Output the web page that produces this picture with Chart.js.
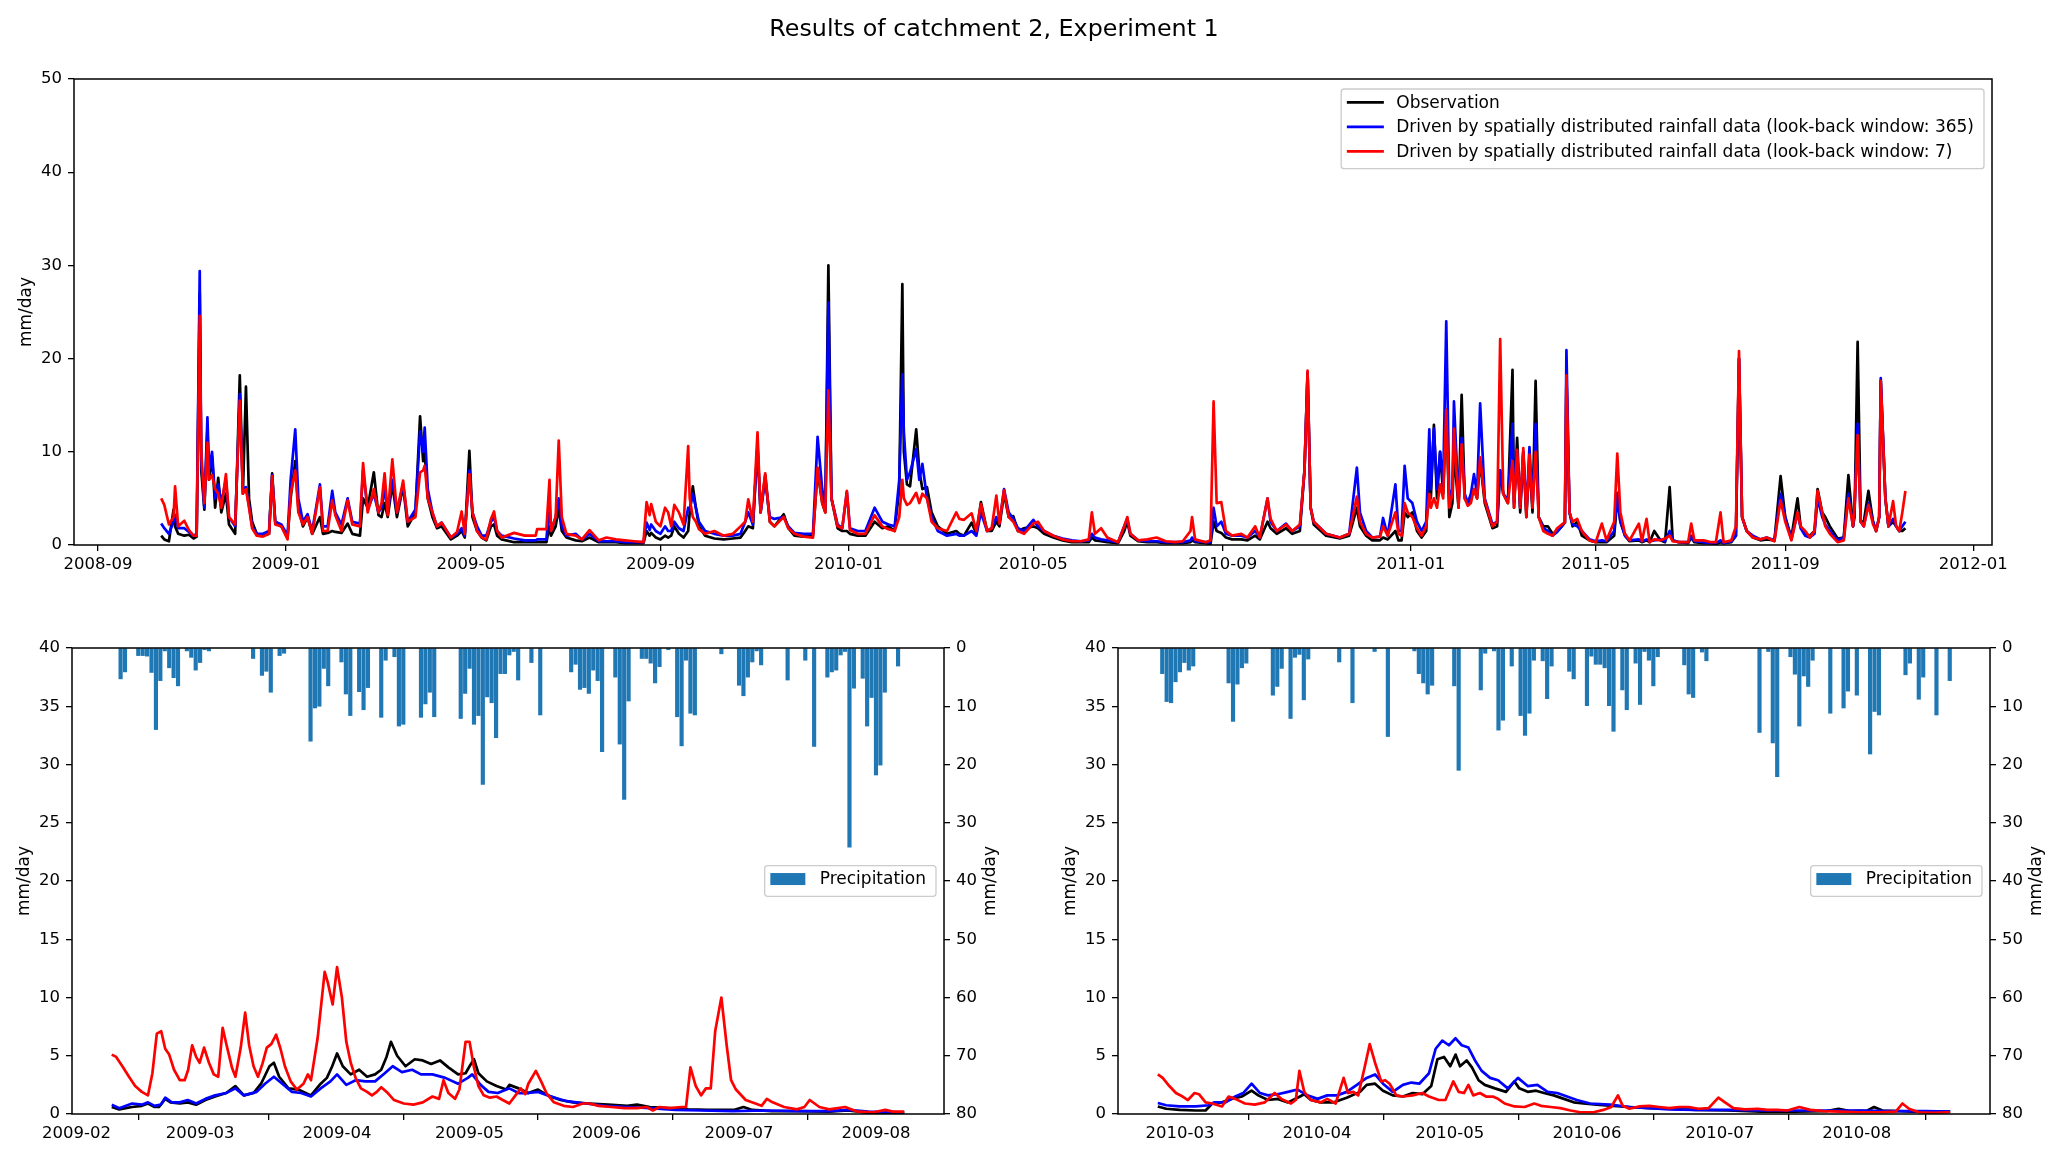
<!DOCTYPE html>
<html><head><meta charset="utf-8">
<script src="https://cdn.jsdelivr.net/npm/chart.js@4.4.1/dist/chart.umd.min.js"></script>
<style>
html,body{margin:0;padding:0;background:#fff;}
#wrap{position:relative;width:2067px;height:1158px;overflow:hidden;background:#fff;}
canvas{position:absolute;}
#title{position:absolute;top:14px;left:994px;transform:translateX(-50%);font-family:"DejaVu Sans",sans-serif;font-size:23.8px;white-space:nowrap;color:#000;}
</style></head><body>
<div id="wrap">
<canvas id="cTop" width="2067" height="600" style="left:0;top:0"></canvas>
<canvas id="cL" width="1033" height="558" style="left:0;top:600px"></canvas>
<canvas id="cR" width="1034" height="558" style="left:1033px;top:600px"></canvas>
<div id="title">Results of catchment 2, Experiment 1</div>
</div>
<script>
// ---------- DATA (x = days since 2009-01-01) ----------
const seriesNames = ['Observation',
  'Driven by spatially distributed rainfall data (look-back window: 365)',
  'Driven by spatially distributed rainfall data (look-back window: 7)'];
const topTicks = ['2008-09','2009-01','2009-05','2009-09','2010-01','2010-05','2010-09','2011-01','2011-05','2011-09','2012-01'];
const leftTicks = ['2009-02','2009-03','2009-04','2009-05','2009-06','2009-07','2009-08'];
const rightTicks = ['2010-03','2010-04','2010-05','2010-06','2010-07','2010-08'];

const topDay = [
-81,-79,-76,-73,-72,-70,-66,-63,-60,-58,
-56,-55,-53,-51,-50,-48,-46,-44,-42,-39,
-37,-33,-30,-28,-26,-24,-22,-19,-15,-11,
-9,-7,-3,1,3,6,8,11,14,17,
22,24,27,30,32,36,40,43,48,50,
53,57,60,62,64,66,69,72,76,79,
84,87,89,90,92,95,98,101,107,111,
114,116,119,121,124,127,130,133,135,137,
140,148,155,162,163,169,171,172,175,177,
179,182,188,192,197,203,208,214,220,226,
232,234,236,237,240,243,246,248,250,252,
255,258,261,262,264,266,268,272,278,284,
290,295,298,300,303,306,308,311,314,317,
323,326,330,336,342,345,348,350,352,354,
358,361,364,366,371,376,382,387,391,395,
398,400,401,403,405,409,411,413,416,419,
423,429,435,437,440,445,448,451,455,458,
461,463,466,469,472,475,479,485,488,492,
498,504,510,516,521,523,525,529,533,540,
544,546,548,553,559,565,571,577,582,587,
588,590,597,600,602,604,607,610,614,620,
624,629,632,637,639,643,649,653,658,661,
663,665,667,675,684,690,695,697,701,705,
710,712,715,720,722,724,726,728,731,734,
737,740,742,743,745,747,749,751,753,755,
757,758,761,763,765,767,769,771,773,775,
778,783,786,788,790,793,796,797,799,801,
803,805,807,809,811,813,816,819,822,825,
828,830,831,833,835,838,841,846,850,854,
857,862,864,866,869,872,878,880,883,885,
888,892,895,898,900,904,910,912,914,920,
925,928,931,933,938,941,943,945,948,952,
957,961,966,970,973,977,981,983,986,989,
992,994,997,999,1002,1007,1011,1014,1017,1018,
1020,1022,1024,1027,1030,1032,1034,1035,1038,1040,
1043,1045,1047,1049,1051];
const topObs = [
1.0,0.6,0.4,3.8,2.0,1.2,1.0,1.1,0.7,0.9,
27.0,8,3.8,12.5,7,9.5,4,7.2,3.5,5.5,
2.2,1.2,18.2,5.5,17.0,5,2.5,1.2,1.0,1.2,
7.7,2.5,2.0,0.8,5,9,4,2,3.0,1.2,
3.0,1.2,1.3,1.5,1.4,1.3,2.3,1.2,1.0,5.0,
4.0,7.8,3.2,3.0,4.5,3.0,6.5,3.0,6.3,2.0,
3.5,13.8,9.0,10.0,5,3.0,1.8,2.0,0.6,1.0,
1.5,0.8,10.1,3.0,1.5,0.8,0.5,2.0,2.2,1.0,
0.6,0.3,0.3,0.3,0.3,0.3,2.0,1.0,2.0,4.0,
1.5,0.8,0.5,0.4,0.8,0.3,0.3,0.3,0.2,0.2,
0.2,1.5,1.0,1.3,0.8,0.6,1.0,0.8,1.0,2.0,
1.2,0.8,1.5,3.5,6.3,4,2.0,1.0,0.7,0.6,
0.7,0.8,1.5,2.0,1.8,10.8,3.5,7.5,2.5,2.0,
3.3,1.8,1.0,0.9,1.0,8.0,4.5,3.5,30.0,5,
1.8,1.5,1.5,1.2,1.0,1.0,2.5,1.8,2.0,1.5,
6,28.0,10,6.5,6.3,12.4,8,6.0,6.2,3.5,
2.0,1.2,1.5,1.2,1.0,2.4,1.2,4.6,1.5,1.5,
2.5,2.0,5.5,3.0,3.1,1.5,1.8,2.0,1.8,1.2,
0.8,0.5,0.3,0.3,0.3,0.8,0.5,0.4,0.3,0.2,
1.5,2.5,1.0,0.4,0.3,0.3,0.2,0.2,0.2,0.3,
0.5,0.3,0.2,0.1,2.5,1.5,1.3,0.8,0.6,0.6,
0.5,1.0,0.6,2.5,1.8,1.2,1.8,1.2,1.5,8,
18.5,4,2.2,1.0,0.7,1.0,4.0,2.0,1.0,0.5,
0.5,0.8,0.6,1.5,0.5,0.5,3.5,3.0,3.5,1.5,
0.8,1.5,8.5,5,12.9,5.0,10.0,5.5,14.5,3.0,
4.5,10.0,4.0,16.1,5.0,4.5,5.0,6.0,5.0,9.0,
4.5,1.8,2.0,8.0,5.5,4.5,18.8,4.0,11.5,3.5,
10.0,3.0,9.0,3.5,17.6,3.0,2.0,2.0,1.2,1.5,
2.0,2.4,18.0,3.5,2.0,2.5,1.0,0.5,0.3,0.3,
0.3,1.0,5.0,2.5,1.0,0.4,0.5,0.3,0.5,0.3,
1.5,0.5,0.3,6.2,0.5,0.3,0.2,0.8,0.3,0.2,
0.2,0.1,0.3,0.2,0.3,1.0,20.0,3.0,1.5,0.8,
0.5,0.6,0.5,7.4,3.0,0.8,5.0,2.0,1.2,1.0,
1.5,6.0,3.5,3.0,2.0,0.7,0.8,7.5,2.0,3,
21.8,2.5,2.5,5.8,2.5,1.5,3,17.6,5.0,2.0,
2.5,2.0,1.5,1.5,1.8];
const top365 = [
2.3,1.8,1.2,2.5,3.2,1.8,1.8,1.4,1.0,1.2,
29.4,9,4.0,13.7,8,10.0,5,6.5,4.5,7.0,
3,2.0,16.2,6,6.2,4.2,2.0,1.2,1.2,1.5,
7.5,2.5,2.2,1.0,7,12.4,5,2.5,3.3,1.5,
6.5,2.0,2.0,5.8,3.5,2.2,5.0,2.5,2.3,8.0,
3.8,5.5,3.5,4.0,6.0,3.5,7.0,3.5,6.5,2.5,
3.8,12.2,10.0,12.6,6,3.5,2.0,2.4,0.8,1.2,
1.8,1.0,8.0,3.5,2.0,1.0,1.0,2.5,3.0,1.5,
1.0,0.7,0.5,0.5,0.6,0.6,4.5,1.5,3.0,5.0,
2.0,1.0,1.2,0.6,1.2,0.4,0.4,0.4,0.3,0.3,
0.3,2.4,1.6,2.2,1.5,1.2,2.0,1.5,1.5,2.5,
1.8,1.5,4.0,3.8,5.5,4,2.5,1.5,1.2,1.0,
1.0,1.2,2.5,3.5,2.2,10.5,3.5,7.0,3.0,2.8,
3.0,2.0,1.3,1.2,1.2,11.6,6.0,4.0,26.0,5,
2.2,1.8,5.7,1.8,1.5,1.5,4.0,2.5,2.2,2.0,
7,18.3,12,7,7.8,10.3,7,8.7,5.0,3.0,
1.5,1.0,1.2,1.0,1.0,1.5,1.0,3.5,1.5,1.8,
3.0,2.3,6.0,3.5,2.8,1.8,1.5,2.7,2.0,1.5,
1.0,0.7,0.5,0.4,0.5,1.2,0.8,0.6,0.5,0.3,
2.0,2.8,1.2,0.5,0.4,0.4,0.3,0.3,0.3,0.5,
0.8,0.4,0.3,0.3,4.0,2.0,2.5,1.2,1.0,1.0,
0.8,1.5,0.8,5.0,2.5,1.5,2.3,1.5,2.0,8,
18.5,4,2.5,1.2,0.8,1.2,8.3,3.5,1.5,0.8,
0.9,2.9,1.0,6.5,1.5,1.5,8.5,5.0,4.5,2.5,
1.5,2.5,12.4,6,12.5,6.0,10.0,6.5,24.0,5.0,
6,15.4,4.5,11.5,5.5,4.5,5.5,7.6,5.5,15.2,
5.0,2.2,2.5,8.0,5.5,4.8,13.0,4.5,10.0,4.0,
10.0,3.5,10.5,4.0,13.0,3.0,1.8,1.5,1.0,1.4,
2.0,2.5,20.9,3.5,2.2,2.0,1.5,0.6,0.4,0.5,
0.4,1.5,5.6,2.5,1.0,0.5,0.6,0.4,0.6,0.4,
0.5,0.6,0.4,1.5,0.5,0.3,0.3,1.0,0.4,0.3,
0.2,0.2,0.5,0.2,0.4,1.0,20.0,3.0,1.5,1.0,
0.6,0.8,0.5,5.5,3.0,0.6,3.5,1.8,1.0,0.8,
1.2,5.0,3.0,2.2,1.5,0.5,0.8,5.5,2.0,4,
13.0,2.5,2.0,4.5,2.5,1.5,3,17.9,5.0,2.0,
2.8,2.0,1.5,2.0,2.5];
const top7 = [
5.0,4.3,2.2,3.0,6.3,2.0,2.6,1.6,1.0,1.0,
24.6,10,4.5,11.0,7,7.5,6,5.5,4.0,7.6,
3,2.2,15.5,5.5,6.0,4,1.8,1.0,0.9,1.2,
7.4,2.2,2.0,0.6,5.5,8,3.5,2.2,3.0,1.2,
6.2,1.5,1.5,4.8,3.2,1.5,4.8,2.2,2.0,8.8,
3.5,6.0,3.5,4.5,7.7,3.2,9.2,3.5,6.9,2.5,
3.0,7.8,8.0,8.5,5,3.5,2.0,2.4,0.8,1.4,
3.6,1.2,7.6,3.5,1.5,0.8,0.6,2.8,3.6,1.5,
0.8,1.3,1.0,1.0,1.7,1.7,7.0,1.5,3.0,11.2,
3.0,1.2,1.0,0.6,1.6,0.5,0.8,0.6,0.5,0.4,
0.3,4.6,3.2,4.4,2.5,2.0,4.0,3.5,2.0,4.3,
3.5,2.2,10.6,5.0,3.0,2.5,1.7,1.2,1.5,1.0,
1.2,2.0,2.5,4.9,2.5,12.1,3.5,7.7,2.5,2.0,
3.0,1.8,1.2,0.9,0.8,8.3,4.5,3.5,16.6,5,
2.0,1.8,5.8,1.6,1.2,1.2,3.2,2.0,1.7,1.5,
3,7.0,5,4.3,4.5,5.6,4.5,5.5,5.0,2.5,
1.8,1.5,3.5,2.8,2.7,3.4,1.5,4.4,1.5,1.8,
5.3,2.3,5.9,3.0,2.5,1.5,1.2,2.3,2.5,1.5,
1.0,0.6,0.4,0.4,0.6,3.5,1.2,1.8,0.8,0.3,
2.0,3.0,1.2,0.5,0.6,0.8,0.4,0.3,0.4,1.5,
3.0,0.6,0.3,0.5,15.4,4.5,4.6,1.5,1.0,1.2,
0.8,2.0,0.8,5.0,2.8,1.5,2.2,1.5,2.2,8,
18.7,4,2.5,1.2,0.8,1.2,5.2,2.5,1.2,0.8,
0.9,2.0,1.0,3.5,1.2,1.0,4.5,3.5,3.0,1.8,
1.0,2.0,5.5,4,5.0,4.0,6.5,5.0,14.5,4.0,
5.5,12.5,4.0,10.8,5.0,4.2,4.5,6.0,5.0,9.4,
4.8,2.0,2.5,22.1,5.5,4.5,9.0,4.0,10.2,4.0,
10.4,3.0,9.7,4.0,10.0,3.0,1.5,1.2,1.0,1.8,
2.2,2.4,18.2,3.5,2.5,2.8,1.5,0.5,0.3,2.3,
0.5,2.5,9.8,3.5,1.2,0.5,2.3,0.4,2.8,0.3,
0.6,0.5,0.7,1.0,0.4,0.3,0.3,2.3,0.5,0.5,
0.3,0.3,3.5,0.3,0.5,2.0,20.8,3.0,1.5,0.8,
0.6,0.8,0.4,4.8,2.5,0.5,3.5,2.0,1.5,0.8,
1.5,5.8,3.5,2.0,1.2,0.3,0.5,5.0,2.0,4,
11.8,2.5,2.0,4.3,2.2,1.5,3,17.6,5.0,2.0,
4.7,2.0,1.5,3.5,5.8];

// bottom-left (Feb-Aug 2009)
const leftPrecipDay = [41,42,45,46,47,48,49,50,51,52,53,54,56,57,58,59,60,61,71,73,74,75,77,78,84,85,86,87,88,91,92,93,95,96,97,100,101,103,104,105,109,110,111,112,118,119,120,121,122,123,124,125,126,127,128,129,130,131,134,136,143,144,145,146,147,148,149,150,153,154,155,156,159,160,161,162,163,165,167,168,169,170,171,177,181,182,183,184,185,186,192,196,198,201,202,203,204,205,206,207,209,210,211,212,213,214,217];
const leftPrecip = [5.3,4.1,1.3,1.3,1.4,4.2,14.0,5.6,0.5,3.4,5.1,6.5,0.5,1.6,3.8,2.5,0.3,0.5,1.8,4.7,4.0,7.6,1.3,0.9,16.0,10.3,10.0,3.5,6.5,2.4,7.9,11.6,7.5,10.6,6.8,11.9,2.1,1.5,13.4,13.1,11.9,9.6,7.6,11.8,12.1,7.8,3.5,13.1,11.6,23.4,8.4,9.4,15.4,4.4,4.4,1.2,0.6,5.5,2.5,11.5,4.1,2.8,7.1,6.8,7.8,3.8,5.6,17.8,5.0,16.5,26.0,9.1,1.8,1.8,2.6,6.0,3.2,0.3,11.8,16.8,2.1,11.2,11.5,1.0,6.4,8.2,5.0,2.4,0.5,2.9,5.5,2.1,16.9,5.0,4.1,3.8,1.2,0.6,34.2,6.9,5.2,13.4,8.5,21.8,20.1,7.6,3.1];
const leftObsDay = [39,40.7,43.6,45.8,47.2,48.7,49.7,51.1,52.3,54.4,56.2,58.1,60.2,62.4,64.9,67,68.9,71.1,72.8,74.7,75.7,76.9,79,81.2,84.1,86.3,87.7,88.9,90,91.3,93.1,95,96.8,98.6,100,101.2,102.2,103.6,105.5,107.6,109.4,111.3,113.3,115.2,117.4,119.1,120,121,122,123.9,126.1,128.3,129,131.1,133.3,135.5,137.7,140.6,143.4,147.1,151.4,155.7,157.9,160.8,165.2,169.5,173.9,179.8,182,184,188.4,194.2,201.4,205.7,210.3,218.4];
const leftObs = [0.6,0.4,0.6,0.7,0.9,0.6,0.6,1.3,1.0,0.9,1.0,0.8,1.2,1.5,1.8,2.4,1.6,1.8,2.6,4.1,4.4,3.2,2.2,2.1,1.6,2.6,3.1,4.1,5.2,4.1,3.4,3.8,3.2,3.4,3.8,4.9,6.2,5.0,4.1,4.7,4.6,4.3,4.6,4.0,3.4,3.5,4.1,4.7,3.5,2.8,2.4,2.1,2.5,2.2,1.8,2.1,1.6,1.2,1.0,0.9,0.8,0.7,0.8,0.6,0.5,0.4,0.35,0.35,0.6,0.35,0.25,0.25,0.2,0.3,0.1,0.1];
const left365Day = [39,40.7,43.6,45.8,47.2,48.7,50.1,51.1,52.6,54.4,56.2,58.1,60.2,62.4,64.9,67,68.9,71.8,73.7,75.7,77.6,79.8,81.9,84.1,86.3,88.5,90,92.1,94.2,96.4,98.6,100.8,102.6,104.7,107,109,111.6,114.5,117.4,119.6,120.6,122.5,124.3,126.4,129,131.1,133.3,135.5,138.4,142,146.3,150.7,155.7,160.8,166.6,172.4,179.6,186.9,194.1,201.4,205.7,210.3,218.4];
const left365 = [0.8,0.5,0.9,0.8,1.0,0.7,0.8,1.4,1.0,1.0,1.2,0.9,1.3,1.6,1.8,2.2,1.6,1.9,2.6,3.2,2.6,1.9,1.8,1.5,2.2,2.8,3.4,2.5,2.9,2.8,2.8,3.5,4.1,3.6,3.8,3.4,3.4,3.1,2.6,3.1,3.4,2.5,1.9,1.8,2.2,1.8,1.8,1.9,1.5,1.1,0.9,0.7,0.6,0.5,0.35,0.3,0.25,0.3,0.25,0.25,0.35,0.2,0.15];
const left7Day = [39,40,41.4,42.9,44.3,45.8,47.2,48.2,49.2,50.2,51.1,52,53.1,54.4,55.5,56.3,57.2,58.1,58.9,59.9,61,62.1,63.1,64.1,65,66.2,67,68.2,69.2,70.1,71.1,72.1,73.1,74.1,75.1,76.2,77.2,78.2,79.5,80.9,82.4,83.4,84.1,85.6,87.2,87.9,89,90,91.1,92.1,93.1,94.2,95.4,96.8,97.9,99,100,101.5,102.9,105.1,107.3,109.4,111.6,113.1,114.1,115.2,116.7,117.7,119.1,120,121,122,123.2,124.6,126.1,127.5,129,130.4,131.6,132.6,133.3,135,136.2,137.4,139.1,141.3,143.4,145.6,147.1,149.2,152.1,155,157.9,160.1,161.5,163,165.2,168,169,170,171.2,172.4,173.5,174.6,175.6,177,178.2,179.2,180.3,182.5,184.7,186.1,187.3,188.6,191.2,194.1,195.8,197,199.2,201.4,205,207.9,211.5,214.1,215.8,218.4];
const left7 = [5.1,4.9,4.1,3.2,2.4,1.9,1.6,3.5,6.9,7.1,5.6,5.1,3.8,2.9,2.9,3.8,5.9,4.9,4.4,5.7,4.4,3.4,3.2,7.4,5.9,4.0,3.2,5.7,8.7,5.9,4.1,3.2,4.3,5.7,6.0,6.8,5.6,4.1,2.8,2.1,2.6,3.4,2.9,6.5,12.2,11.3,9.4,12.6,10.0,6.2,4.4,3.1,2.2,1.9,1.6,1.9,2.3,1.8,1.2,0.9,0.8,1.0,1.5,1.3,2.9,1.8,1.3,2.1,6.2,6.2,4.0,2.4,1.6,1.4,1.5,1.2,0.9,1.6,2.2,1.7,2.6,3.7,2.8,1.8,1.0,0.7,0.6,0.9,0.9,0.7,0.6,0.5,0.5,0.6,0.3,0.6,0.5,0.6,0.6,4.0,2.4,1.6,2.2,2.2,7.1,10.0,5.9,2.9,2.1,1.2,0.9,0.7,1.3,1.0,0.6,0.4,0.6,1.2,0.6,0.4,0.6,0.2,0.15,0.35,0.2,0.2];

// bottom-right (Feb-Aug 2010)
const rightPrecipDay = [420,421,422,423,424,425,426,427,435,436,437,438,439,445,446,447,449,450,451,452,453,460,463,468,471,477,478,479,480,481,486,487,492,493,495,496,497,499,501,502,503,504,506,507,508,512,513,516,517,518,519,520,521,522,524,525,527,528,529,530,531,532,538,539,540,542,543,555,557,558,559,562,563,564,565,566,567,571,574,575,577,580,581,582,588,589,591,592,595,598];
const rightPrecip = [4.4,9.2,9.4,5.8,4.1,2.5,3.8,3.1,6.0,12.6,6.2,3.4,2.6,8.1,6.6,3.5,12.1,1.6,1.1,8.9,1.9,2.4,9.4,0.6,15.2,0.5,4.4,6.0,7.9,6.4,6.5,21.0,7.2,0.9,0.5,14.1,12.4,3.1,11.6,15.0,11.2,2.1,2.2,8.7,3.1,4.0,5.3,9.9,1.4,2.8,2.8,3.4,9.9,14.3,7.2,10.6,2.6,9.7,0.6,2.1,6.5,1.5,2.9,7.9,8.5,0.7,2.2,14.5,0.6,16.3,22.1,1.5,4.5,13.4,4.8,6.6,2.1,11.2,10.3,7.4,8.1,18.2,10.9,11.5,4.6,2.6,8.8,5.0,11.5,5.6];
const rightObsDay = [419,420.9,423.9,427.6,429.8,431.3,433.5,435.7,438,440.2,441.7,443.9,446.1,448.4,450.6,452.1,453.6,455.8,458.8,461.7,464.7,466.2,468.1,469.9,472.1,474.4,476.6,478.8,480.8,482.2,483.7,485.1,486.3,487.3,488.8,490,491.5,492.9,495.2,497.7,499.6,500.7,502.6,504.5,506.3,508.5,510.8,513,515.2,518.2,521.9,525.6,530.1,534.6,540.5,547.9,555.3,562.8,570.2,572.9,575.4,579.4,580.9,582.8,589.5,598.1];
const rightObs = [0.65,0.45,0.35,0.3,0.3,0.9,1.0,1.3,1.5,2.0,1.6,1.2,1.3,1.0,1.4,1.7,1.2,1.0,1.0,1.4,1.9,2.5,2.6,2.0,1.6,1.5,1.8,1.7,2.4,4.7,4.9,4.1,5.1,4.1,4.6,4.0,2.9,2.5,2.2,1.9,2.8,2.2,1.9,2.0,1.8,1.6,1.3,1.0,0.9,0.8,0.7,0.6,0.5,0.45,0.35,0.3,0.2,0.2,0.25,0.45,0.25,0.3,0.6,0.3,0.2,0.2];
const right365Day = [419,420.9,423.9,427.6,430.5,431.7,434.3,436.5,438.3,440.2,442.1,443.9,446.1,448.4,450.6,452.8,455.1,457.3,459.5,461.7,464,466.2,468.1,469.9,472.1,474.4,476.3,478.1,480.3,481.8,483.3,484.8,486.3,487.7,489.2,490.7,492.2,494.1,495.9,498.1,500.4,502.6,504.8,507.1,509.3,511.5,513.7,516.7,521.2,525.6,530.1,534.6,540.5,547.9,555.3,562.8,570.2,577.6,585,592.5,598.1];
const right365 = [0.95,0.75,0.65,0.65,0.75,1.0,1.0,1.5,1.8,2.6,1.8,1.6,1.7,1.9,2.1,1.6,1.3,1.6,1.6,1.9,2.5,3.1,3.4,2.6,1.9,2.5,2.7,2.6,3.5,5.6,6.3,5.9,6.5,5.9,5.7,4.6,3.7,3.1,2.9,2.2,3.1,2.4,2.5,1.9,1.8,1.5,1.2,0.9,0.8,0.6,0.5,0.4,0.35,0.35,0.3,0.3,0.3,0.3,0.25,0.25,0.2];
const right7Day = [419,420.1,421.6,423.1,424.6,425.8,427.3,428.3,429.8,431.3,433.5,435,436.5,438.7,440.9,443.2,445.4,446.9,449.1,450.2,451,452.1,453.6,455.8,457.3,459.2,461,462,463.2,464.3,465.8,466.9,468.1,469.5,470.4,471.4,472.9,474.4,476.6,478.8,480.3,482.5,484,485.8,487,488.2,489.2,490.3,491.8,493.2,494.7,495.9,497.4,499.6,501.9,504.1,505.6,507.8,510,512.3,514.5,517.5,519.7,521.5,523,524.1,525.6,527.9,530.1,532.3,534.6,536.8,539,541.2,543.5,545.7,547.2,549.1,551.7,554.6,556.8,559.1,561.3,564,566.5,569.5,573.2,577.6,582.1,585.8,587.3,588.8,591,594,598.1];
const right7 = [3.4,3.1,2.4,1.8,1.5,1.2,1.8,1.7,1.0,0.9,0.65,1.5,1.3,0.9,0.8,1.0,1.8,1.3,0.9,1.2,3.7,1.9,1.2,1.0,1.3,0.9,3.1,1.8,1.9,1.6,4.1,6.0,4.4,2.8,2.9,2.6,1.6,1.5,1.6,1.8,1.5,1.2,1.2,2.8,1.9,1.8,2.5,1.6,1.8,1.5,1.5,1.3,0.9,0.65,0.6,0.9,0.7,0.6,0.5,0.3,0.15,0.15,0.35,0.6,1.6,0.7,0.45,0.65,0.7,0.6,0.5,0.6,0.6,0.45,0.5,1.4,1.0,0.5,0.4,0.45,0.35,0.35,0.3,0.6,0.35,0.25,0.2,0.15,0.15,0.2,0.9,0.45,0.15,0.1,0.15];

// ---------- helpers ----------
const ORIGIN = Date.UTC(2009, 0, 1);
const dayOf = s => { const [y, m] = s.split('-').map(Number); return (Date.UTC(y, m - 1, 1) - ORIGIN) / 864e5; };
const pts = (xs, ys) => xs.map((x, i) => ({x: x, y: ys[i]}));
const FONT = '"DejaVu Sans", sans-serif';
const FS = 16.5;   // tick labels
const LFS = 17;    // legend / axis labels
const BLACK = '#000000', BLUE = '#0000ff', RED = '#ff0000', BAR = '#1f77b4';

Chart.defaults.font.family = FONT;
Chart.defaults.font.size = FS;
Chart.defaults.color = '#000';
Chart.defaults.animation = false;

const decor = {
  id: 'decor',
  afterDatasetsDraw(chart, args, o) {
    const {ctx, chartArea: a} = chart;
    ctx.save();
    // frame (all four spines)
    ctx.strokeStyle = '#000'; ctx.lineWidth = 1.5;
    ctx.strokeRect(a.left, a.top, a.right - a.left, a.bottom - a.top);
    // y-axis labels (rotated, reading upwards on both sides)
    ctx.font = LFS + 'px ' + FONT; ctx.fillStyle = '#000';
    ctx.textAlign = 'center'; ctx.textBaseline = 'middle';
    const cy = (a.top + a.bottom) / 2;
    for (const side of o.ySides) {
      const x = side === 'left' ? a.left - 47 : a.right + 47;
      ctx.save(); ctx.translate(x, cy); ctx.rotate(-Math.PI / 2); ctx.fillText('mm/day', 0, 0); ctx.restore();
    }
    // legend box
    const items = o.items;
    const rowH = 24.5, firstC = 13.4, lastPad = 17.3, padL = 5.7, handle = 37, gap = 12.4, padR = 10;
    const textW = Math.max(...items.map(it => ctx.measureText(it.label).width));
    const w = padL + handle + gap + textW + padR;
    const h = firstC + (items.length - 1) * rowH + lastPad;
    const right = a.right - 8;
    const left = right - w;
    const top = o.loc === 'upper right' ? a.top + 10 : (a.top + a.bottom) / 2 - h / 2;
    ctx.beginPath();
    if (ctx.roundRect) ctx.roundRect(left, top, w, h, 3); else ctx.rect(left, top, w, h);
    ctx.fillStyle = 'rgba(255,255,255,0.8)'; ctx.fill();
    ctx.strokeStyle = '#cccccc'; ctx.lineWidth = 1.3; ctx.stroke();
    items.forEach((it, i) => {
      const cyr = top + firstC + rowH * i;
      if (it.kind === 'line') {
        ctx.strokeStyle = it.color; ctx.lineWidth = 2.8;
        ctx.beginPath(); ctx.moveTo(left + padL, cyr); ctx.lineTo(left + padL + handle, cyr); ctx.stroke();
      } else {
        ctx.fillStyle = it.color; ctx.fillRect(left + padL, cyr - 6, handle - 2, 12);
      }
      ctx.fillStyle = '#000'; ctx.textAlign = 'left'; ctx.textBaseline = 'middle';
      ctx.fillText(it.label, left + padL + handle + gap, cyr + 1);
    });
    ctx.restore();
  }
};

const tickGrid = {drawOnChartArea: false, drawTicks: true, tickLength: 6, color: '#000', lineWidth: 1.3};

function xScale(ticks, min, max, h) {
  return {
    type: 'linear', min: min, max: max, offset: false,
    afterBuildTicks: s => { s.ticks = ticks.map(t => ({value: dayOf(t)})); },
    afterFit: s => { s.height = h; },
    ticks: {autoSkip: false, maxRotation: 0, minRotation: 0, padding: 4, callback: (v, i) => ticks[i]},
    grid: tickGrid, border: {display: false}
  };
}
function lineDs(label, data, color, order) {
  return {type: 'line', label: label, data: data, borderColor: color, backgroundColor: color,
    borderWidth: 2.7, pointRadius: 0, tension: 0, fill: false, order: order,
    borderJoinStyle: 'round', yAxisID: 'y'};
}

// ---------- top chart ----------
new Chart(document.getElementById('cTop'), {
  type: 'line',
  data: {datasets: [
    lineDs(seriesNames[2], pts(topDay, top7), RED, 0),
    lineDs(seriesNames[1], pts(topDay, top365), BLUE, 1),
    lineDs(seriesNames[0], pts(topDay, topObs), BLACK, 2)
  ]},
  options: {
    responsive: false, devicePixelRatio: 1, animation: false,
    layout: {padding: {top: 79, right: 75, left: 0, bottom: 0}},
    plugins: {legend: {display: false}, tooltip: {enabled: false},
      decor: {ySides: ['left'], loc: 'upper right', items: [
        {label: seriesNames[0], color: BLACK, kind: 'line'},
        {label: seriesNames[1], color: BLUE, kind: 'line'},
        {label: seriesNames[2], color: RED, kind: 'line'}]}},
    scales: {
      x: xScale(topTicks, -137.6, 1107.2, 55),
      y: {min: 0, max: 50, ticks: {stepSize: 10, padding: 6}, afterFit: s => { s.width = 74; },
        grid: tickGrid, border: {display: false}}
    }
  },
  plugins: [decor]
});

function bottomChart(id, ticks, min, max, yw, y2w, precipDay, precip, obsD, obs, bD, b, rD, r) {
  new Chart(document.getElementById(id), {
    type: 'line',
    data: {datasets: [
      lineDs(seriesNames[2], pts(rD, r), RED, 1),
      lineDs(seriesNames[1], pts(bD, b), BLUE, 2),
      lineDs(seriesNames[0], pts(obsD, obs), BLACK, 3),
      {type: 'bar', label: 'Precipitation', data: pts(precipDay, precip), yAxisID: 'y2',
        backgroundColor: BAR, borderWidth: 0, barThickness: 3.5, order: 0}
    ]},
    options: {
      responsive: false, devicePixelRatio: 1, animation: false,
      layout: {padding: {top: 48, right: 0, left: 0, bottom: 0}},
      plugins: {legend: {display: false}, tooltip: {enabled: false},
        decor: {ySides: ['left', 'right'], loc: 'center right', items: [
          {label: 'Precipitation', color: BAR, kind: 'patch'}]}},
      scales: {
        x: xScale(ticks, min, max, 44),
        y: {position: 'left', min: 0, max: 40, ticks: {stepSize: 5, padding: 6},
          afterFit: s => { s.width = yw; }, grid: tickGrid, border: {display: false}},
        y2: {position: 'right', min: 0, max: 80, reverse: true, ticks: {stepSize: 10, padding: 6},
          afterFit: s => { s.width = y2w; }, grid: tickGrid, border: {display: false}}
      }
    },
    plugins: [decor]
  });
}
bottomChart('cL', leftTicks, 30, 227.4, 72, 89, leftPrecipDay, leftPrecip,
  leftObsDay, leftObs, left365Day, left365, left7Day, left7);
bottomChart('cR', rightTicks, 410, 607.1, 85, 77, rightPrecipDay, rightPrecip,
  rightObsDay, rightObs, right365Day, right365, right7Day, right7);
</script>
</body></html>
